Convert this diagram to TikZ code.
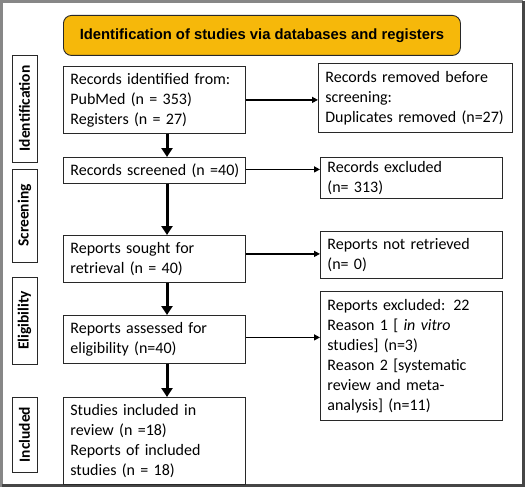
\documentclass[tikz,border=0pt]{standalone}
\usepackage{fontspec}
\setmainfont{Carlito}
\newfontfamily\headfont{Liberation Sans}
\usetikzlibrary{arrows.meta,calc}
\definecolor{headgold}{RGB}{246,184,10}
\definecolor{framelight}{RGB}{135,135,135}
\definecolor{framedark}{RGB}{70,70,70}
\definecolor{boxline}{RGB}{40,40,40}
\tikzset{
  flowbox/.style={
    draw=boxline,
    fill=white,
    line width=0.8pt,
    anchor=north west,
    inner xsep=7pt,
    inner ysep=0pt,
    align=left,
    font=\fontsize{16}{20}\selectfont
  },
  phasebox/.style={
    draw=boxline,
    line width=0.8pt,
    rotate=90,
    minimum height=25pt,
    inner sep=0pt,
    font=\bfseries\fontsize{15.5}{17}\selectfont
  },
  headbox/.style={
    draw=boxline,
    fill=headgold,
    line width=0.9pt,
    rounded corners=8pt,
    anchor=north west,
    minimum width=397pt,
    minimum height=40pt,
    font=\headfont\bfseries\fontsize{14.8}{17}\selectfont
  },
  mainflow/.style={
    draw=black,
    line width=3pt,
    -{Triangle[length=9pt,width=11pt]}
  },
  sideflow/.style={
    draw=black,
    line width=1.4pt,
    -{Triangle[length=6pt,width=6pt]}
  }
}

\begin{document}
\begin{tikzpicture}[x=1pt,y=-1pt]
  \useasboundingbox (0,0) rectangle (525,487);

  % Outer frame of the figure.
  \draw[framelight,line width=3pt] (1.5,487) -- (1.5,1.5) -- (523,1.5);
  \draw[framedark,line width=3pt] (523,1.5) -- (523,485.5) -- (1.5,485.5);

  % Header banner.
  \node[headbox] (head) at (63,15) {Identification of studies via databases and registers};

  % Phase labels along the left margin.
  \node[phasebox,minimum width=107pt] (phaseid) at (24.5,108.5) {Identification};
  \node[phasebox,minimum width=93pt]  (phasesc) at (24.5,215.5) {Screening};
  \node[phasebox,minimum width=87pt]  (phaseel) at (24.5,320.5) {Eligibility};
  \node[phasebox,minimum width=75pt]  (phasein) at (24.5,434.5) {Included};

  % Main flow boxes.
  \node[flowbox,text width=168pt,minimum height=67pt] (identified) at (63,66)
    {Records identified from:\\PubMed (n = 353)\\Registers (n = 27)};
  \node[flowbox,text width=168pt,minimum height=26pt] (screened) at (63,157)
    {\mbox{Records screened (n =40)}};
  \node[flowbox,text width=168pt,minimum height=47pt] (sought) at (63,235)
    {Reports sought for\\retrieval (n = 40)};
  \node[flowbox,text width=168pt,minimum height=48pt] (assessed) at (63,315)
    {Reports assessed for\\eligibility (n=40)};
  \node[flowbox,text width=168pt,minimum height=87pt] (included) at (63,397)
    {Studies included in\\review (n =18)\\Reports of included\\studies (n = 18)};

  % Exclusion boxes on the right.
  \node[flowbox,text width=180pt,minimum height=69pt] (removed) at (318,63)
    {Records removed before\\screening:\\\mbox{Duplicates removed (n=27)}};
  \node[flowbox,text width=168pt,minimum height=41pt] (excluded) at (320,157)
    {Records excluded\\(n= 313)};
  \node[flowbox,text width=168pt,minimum height=47pt] (notretr) at (320,231)
    {Reports not retrieved\\(n= 0)};
  \node[flowbox,text width=168pt,minimum height=129pt] (repexcl) at (320,291)
    {Reports excluded: 22\\Reason 1 [ \textit{in vitro}\\studies] (n=3)\\Reason 2 [systematic\\review and meta-\\analysis] (n=11)};

  % Vertical flow, offset right of the box centres.
  \coordinate (flowx) at (167,0);
  \draw[mainflow] (identified.south -| flowx) -- (screened.north -| flowx);
  \draw[mainflow] (screened.south -| flowx) -- (sought.north -| flowx);
  \draw[mainflow] (sought.south -| flowx) -- (assessed.north -| flowx);
  \draw[mainflow] (assessed.south -| flowx) -- (included.north -| flowx);

  % Side flow to the exclusion boxes.
  \draw[sideflow] (identified.east) -- (identified.east -| removed.west);
  \draw[sideflow] ($(screened.east)+(0,-1)$) -- ($(screened.east -| excluded.west)+(0,-1)$);
  \draw[sideflow] ($(sought.east)+(0,-5)$) -- ($(sought.east -| notretr.west)+(0,-5)$);
  \draw[sideflow] ($(assessed.east)+(0,-2)$) -- ($(assessed.east -| repexcl.west)+(0,-2)$);

\end{tikzpicture}
\end{document}
